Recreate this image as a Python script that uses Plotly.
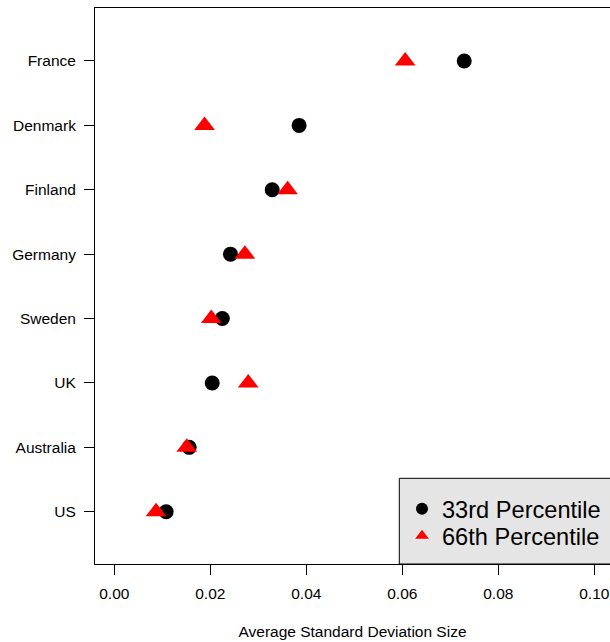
import plotly.graph_objects as go

countries = ["US", "Australia", "UK", "Sweden", "Germany", "Finland", "Denmark", "France"]
p33 = [0.0108, 0.0156, 0.0204, 0.0225, 0.0242, 0.0329, 0.0385, 0.0729]
p66 = [0.0087, 0.0151, 0.0279, 0.0202, 0.0272, 0.0361, 0.0188, 0.0606]
x_ticks = [0.00, 0.02, 0.04, 0.06, 0.08, 0.10]
x_ticktext = ["0.00", "0.02", "0.04", "0.06", "0.08", "0.10"]
series_names = ["33rd Percentile", "66th Percentile"]

FONT = "Liberation Sans, Arial, Helvetica, sans-serif"

fig = go.Figure()
fig.add_trace(go.Scatter(
    x=p33, y=countries, mode="markers", name=series_names[0],
    marker=dict(symbol="circle", size=15, color="black", line=dict(width=0)),
    legend="legend",
))
fig.add_trace(go.Scatter(
    x=p66, y=countries, mode="markers", name=series_names[1],
    marker=dict(symbol="triangle-up", size=18, color="#ff0000", line=dict(width=0)),
    legend="legend2",
))

W, H = 610, 642
ML, MR, MT, MB = 95, 0, 8, 78
pw = W - ML - MR
ph = H - MT - MB

def px_x(px):
    return (px - ML) / pw

def px_y(py):
    return (H - MB - py) / ph

# legend background box
fig.add_shape(type="rect", xref="paper", yref="paper",
              x0=px_x(399.3), x1=px_x(640), y0=0, y1=px_y(478.3),
              fillcolor="#e5e5e5", line=dict(color="black", width=1), layer="below")

leg_common = dict(bgcolor="rgba(0,0,0,0)", borderwidth=0, xanchor="left", yanchor="middle",
                  font=dict(family=FONT, size=23.6, color="black"), itemsizing="constant")

fig.update_layout(
    width=W, height=H,
    margin=dict(l=ML, r=MR, t=MT, b=MB, autoexpand=False),
    paper_bgcolor="white", plot_bgcolor="white",
    font=dict(family=FONT, size=15.5, color="black"),
    showlegend=True,
    legend=dict(x=px_x(402), y=px_y(509), **leg_common),
    legend2=dict(x=px_x(402), y=px_y(536), **leg_common),
    xaxis=dict(
        range=[(ML - 114.3) / 4800, (W - 114.3) / 4800],
        tickvals=x_ticks, ticktext=x_ticktext,
        ticks="outside", ticklen=10, tickcolor="black", tickwidth=1,
        showline=True, linecolor="black", linewidth=1, mirror=True,
        showgrid=False, zeroline=False, automargin=False,
        ticklabelstandoff=5,
        tickfont=dict(family=FONT, size=15.5, color="black"),
        title=dict(text="Average Standard Deviation Size", standoff=25,
                   font=dict(family=FONT, size=15.5, color="black")),
    ),
    yaxis=dict(
        type="category", categoryorder="array", categoryarray=countries,
        range=[-0.812, 7.823],
        ticks="outside", ticklen=10, tickcolor="black", tickwidth=1,
        showline=True, linecolor="black", linewidth=1, mirror=False,
        showgrid=False, zeroline=False, automargin=False,
        ticklabelstandoff=5,
        tickfont=dict(family=FONT, size=15.5, color="black"),
    ),
)

fig.write_html(
    "out.html",
    config={"displayModeBar": False},
    post_script="document.body.style.margin='0';document.body.style.overflow='hidden';",
)
